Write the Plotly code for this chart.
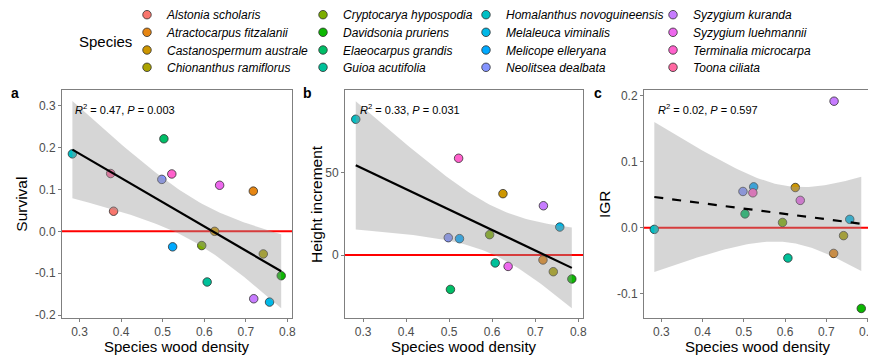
import numpy as np
import plotly.graph_objects as go

species = ["Alstonia scholaris", "Atractocarpus fitzalanii", "Castanospermum australe",
           "Chionanthus ramiflorus", "Cryptocarya hypospodia", "Davidsonia pruriens",
           "Elaeocarpus grandis", "Guioa acutifolia", "Homalanthus novoguineensis",
           "Melaleuca viminalis", "Melicope elleryana", "Neolitsea dealbata",
           "Syzygium kuranda", "Syzygium luehmannii", "Terminalia microcarpa", "Toona ciliata"]
colors = ["#F8766D", "#E68613", "#CD9600", "#ABA300", "#7CAE00", "#0CB702", "#00BE67", "#00C19A",
          "#00BFC4", "#00B8E7", "#00A9FF", "#8494FF", "#C77CFF", "#ED68ED", "#FF61CC", "#FF68A1"]

wood_density = [0.382, 0.718, 0.625, 0.742, 0.594, 0.785, 0.503, 0.607,
                0.283, 0.757, 0.524, 0.498, 0.719, 0.637, 0.522, 0.375]
survival = [0.048, 0.096, 0.000, -0.054, -0.034, -0.106, 0.221, -0.121,
            0.185, -0.169, -0.037, 0.124, -0.161, 0.110, 0.137, 0.138]
height_increment = [None, -3.0, 37.1, -10.1, 12.3, -14.5, -20.8, -4.8,
                    82.1, 16.9, 9.9, 10.5, 29.8, -6.9, 58.5, None]
igr = [None, -0.039, 0.061, -0.012, 0.008, -0.1225, 0.021, -0.046,
       -0.0025, 0.0127, 0.062, 0.055, 0.192, 0.0415, 0.053, None]

panel_letters = ["a", "b", "c"]
y_titles = ["Survival", "Height increment", "IGR"]
stats_text = ["<i>R</i><sup>2</sup> = 0.47, <i>P</i> = 0.003",
              "<i>R</i><sup>2</sup> = 0.33, <i>P</i> = 0.031",
              "<i>R</i><sup>2</sup> = 0.02, <i>P</i> = 0.597"]
x_ticks = [0.3, 0.4, 0.5, 0.6, 0.7, 0.8]
x_ticktext = ["0.3", "0.4", "0.5", "0.6", "0.7", "0.8"]
y_ticks = [[-0.2, -0.1, 0.0, 0.1, 0.2, 0.3], [0, 50], [-0.1, 0.0, 0.1, 0.2]]
y_ticktext = [["-0.2", "-0.1", "0.0", "0.1", "0.2", "0.3"], ["0", "50"], ["-0.1", "0.0", "0.1", "0.2"]]
t_crit = {14: 2.144787, 12: 2.178813}

# the page body has an 8px margin: lay out in window pixels and shift
OFF = 8
W, H = 876 - OFF, 358 - OFF
FONT = "Liberation Sans, Arial, sans-serif"


def fx(px):
    return (px - OFF) / W


def fy(py):
    return 1 - (py - OFF) / H


# layout (window pixels)
x_dom_px = [(62, 292), (345, 583), (644, 872)]
y_dom_px = (90, 318)
y_ranges = [[-0.207, 0.3375], [-38.1, 99.8], [-0.137, 0.209]]
x_range = [0.258, 0.811]
ytitle_x = [20.7, 316, 604]
letter_x = [15, 307, 598]
stats_x = [73, 358, 656]
dashes = ["solid", "solid", "dash"]
legend_dot_x = [149, 325, 488, 675]
legend_row_y = [14.7, 32.3, 50.0, 67.3]

fig = go.Figure()
series_list = [survival, height_increment, igr]

for p in range(3):
    xa = "x" if p == 0 else f"x{p+1}"
    ya = "y" if p == 0 else f"y{p+1}"
    xs = np.array(wood_density, dtype=float)
    ys = np.array([np.nan if v is None else v for v in series_list[p]], dtype=float)
    ok = ~np.isnan(ys)
    xv, yv = xs[ok], ys[ok]

    # zero reference line
    fig.add_trace(go.Scatter(x=x_range, y=[0, 0], mode="lines", xaxis=xa, yaxis=ya,
                             line=dict(color="#FF0000", width=2), showlegend=False, hoverinfo="skip"))
    # points
    for i, sp in enumerate(species):
        if np.isnan(ys[i]):
            continue
        fig.add_trace(go.Scatter(
            x=[xs[i]], y=[ys[i]], mode="markers", xaxis=xa, yaxis=ya, name=sp,
            marker=dict(size=8.5, color=colors[i], line=dict(color="#303030", width=0.8)),
            showlegend=(p == 0),
            legend=("legend" if i == 0 else f"legend{i+1}"),
        ))
    # linear fit with 95% CI
    n = len(xv)
    b1, b0 = np.polyfit(xv, yv, 1)
    resid = yv - (b0 + b1 * xv)
    s = np.sqrt(np.sum(resid ** 2) / (n - 2))
    xg = np.linspace(xv.min(), xv.max(), 80)
    yg = b0 + b1 * xg
    se = s * np.sqrt(1.0 / n + (xg - xv.mean()) ** 2 / np.sum((xv - xv.mean()) ** 2))
    tq = t_crit[n - 2]
    lo, hi = yg - tq * se, yg + tq * se
    fig.add_trace(go.Scatter(x=np.concatenate([xg, xg[::-1]]), y=np.concatenate([hi, lo[::-1]]),
                             mode="lines", fill="toself", fillcolor="rgba(153,153,153,0.4)",
                             line=dict(width=0, color="rgba(0,0,0,0)"), xaxis=xa, yaxis=ya,
                             showlegend=False, hoverinfo="skip"))
    fig.add_trace(go.Scatter(x=xg, y=yg, mode="lines", xaxis=xa, yaxis=ya,
                             line=dict(color="black", width=2.2, dash=dashes[p]),
                             showlegend=False, hoverinfo="skip"))

    dom_x = [fx(x_dom_px[p][0]), min(1.0, fx(x_dom_px[p][1]))]
    dom_y = [fy(y_dom_px[1]), fy(y_dom_px[0])]
    axis_common = dict(showgrid=False, zeroline=False, showline=True, mirror=True,
                       linecolor="#7F7F7F", linewidth=1, ticks="outside", ticklen=3,
                       tickcolor="#7F7F7F", tickwidth=1, automargin=False,
                       ticklabeloverflow="allow",
                       tickfont=dict(family=FONT, size=12, color="#4D4D4D"))
    fig.update_layout(**{
        ("xaxis" if p == 0 else f"xaxis{p+1}"): dict(domain=dom_x, range=x_range, anchor=ya,
                                                    tickvals=x_ticks, ticktext=x_ticktext, **axis_common),
        ("yaxis" if p == 0 else f"yaxis{p+1}"): dict(domain=dom_y, range=y_ranges[p], anchor=xa,
                                                    tickvals=y_ticks[p], ticktext=y_ticktext[p], **axis_common),
    })
    # annotations
    fig.add_annotation(x=fx(letter_x[p]), y=fy(93), xref="paper", yref="paper", text=f"<b>{panel_letters[p]}</b>",
                       showarrow=False, font=dict(family=FONT, size=14, color="black"), xanchor="center", yanchor="middle")
    fig.add_annotation(x=fx(stats_x[p]), y=fy(109), xref="paper", yref="paper", text=stats_text[p],
                       showarrow=False, font=dict(family=FONT, size=11, color="black"), xanchor="left", yanchor="middle")
    fig.add_annotation(x=fx(ytitle_x[p]), y=fy(204), xref="paper", yref="paper", text=y_titles[p],
                       showarrow=False, textangle=-90, font=dict(family=FONT, size=15.5, color="black"),
                       xanchor="center", yanchor="middle")
    fig.add_annotation(x=fx((x_dom_px[p][0] + x_dom_px[p][1]) / 2), y=fy(346), xref="paper", yref="paper",
                       text="Species wood density", showarrow=False, font=dict(family=FONT, size=15, color="black"),
                       xanchor="center", yanchor="middle")

fig.add_annotation(x=fx(105), y=fy(41.7), xref="paper", yref="paper", text="Species", showarrow=False,
                   font=dict(family=FONT, size=15, color="black"), xanchor="center", yanchor="middle")

for i in range(len(species)):
    name = "legend" if i == 0 else f"legend{i+1}"
    col, row = i // 4, i % 4
    fig.update_layout(**{name: dict(
        x=fx(legend_dot_x[col] - 22), y=fy(legend_row_y[row]), xref="paper", yref="paper",
        xanchor="left", yanchor="middle", orientation="v", tracegroupgap=0, itemwidth=30,
        bgcolor="rgba(0,0,0,0)", borderwidth=0,
        font=dict(family=FONT, size=12, color="black", style="italic"))})

fig.update_layout(width=W, height=H, margin=dict(l=0, r=0, t=0, b=0, pad=0, autoexpand=False),
                  paper_bgcolor="white", plot_bgcolor="white", showlegend=True,
                  font=dict(family=FONT))
fig.write_html("out.html")
